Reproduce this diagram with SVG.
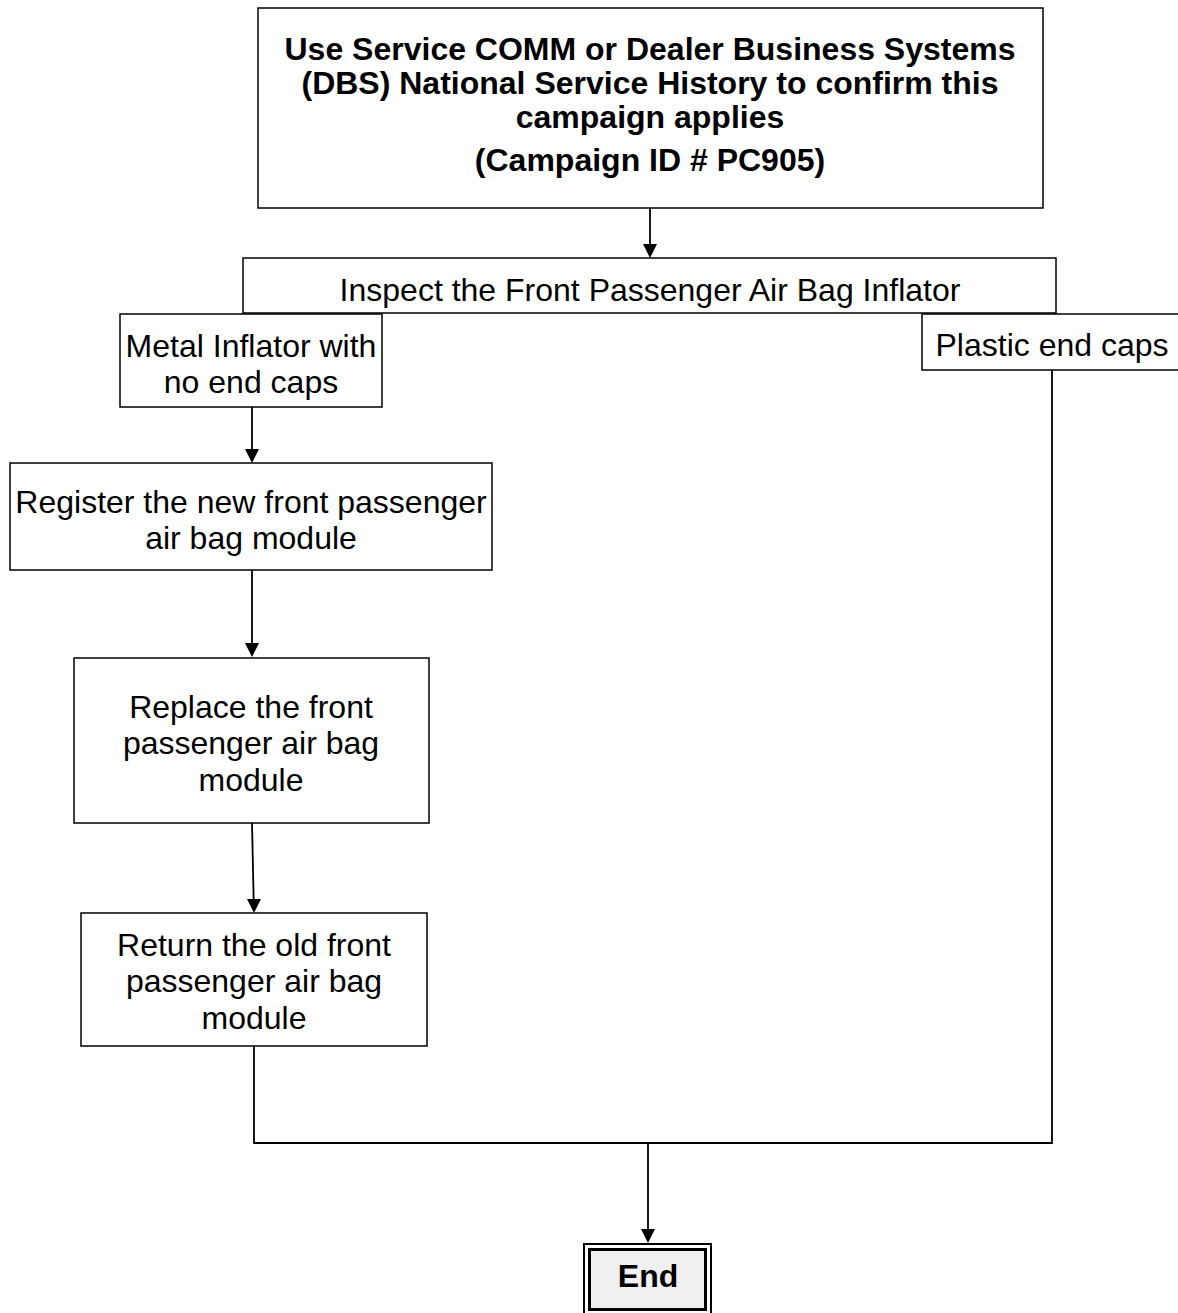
<svg xmlns="http://www.w3.org/2000/svg" width="1178" height="1313" viewBox="0 0 1178 1313">
<style>
.box{fill:#fff;stroke:#000;stroke-width:1.5}
.t{font-family:"Liberation Sans",Arial,sans-serif;font-size:32px;fill:#000;text-anchor:middle}
.b{font-weight:bold}
.c{fill:none;stroke:#000;stroke-width:1.8}
</style>
<defs>
<path id="ah" d="M-7,-14 L7,-14 L0,0 Z" fill="#000"/>
</defs>
<rect width="1178" height="1313" fill="#fff"/>
<g id="connectors">
<line class="c" x1="650" y1="208" x2="650" y2="246"/>
<line class="c" x1="252" y1="407" x2="252" y2="451"/>
<line class="c" x1="252" y1="570" x2="252" y2="645"/>
<line class="c" x1="252" y1="823" x2="253.7" y2="901"/>
<polyline class="c" points="254,1046 254,1143 1052,1143 1052,370"/>
<line class="c" x1="648" y1="1143" x2="648" y2="1231"/>
<use href="#ah" x="650" y="258"/>
<use href="#ah" x="252" y="463"/>
<use href="#ah" x="252" y="657"/>
<use href="#ah" x="254" y="913"/>
<use href="#ah" x="648" y="1243"/>
</g>
<g id="n-campaign">
<rect class="box" x="258" y="8" width="785" height="200"/>
<text class="t b" x="650" y="60">Use Service COMM or Dealer Business Systems</text>
<text class="t b" x="650" y="94">(DBS) National Service History to confirm this</text>
<text class="t b" x="650" y="128">campaign applies</text>
<text class="t b" x="650" y="171">(Campaign ID # PC905)</text>
</g>
<g id="n-inspect">
<rect class="box" x="243" y="258" width="813" height="55"/>
<text class="t" x="650" y="301">Inspect the Front Passenger Air Bag Inflator</text>
</g>
<g id="n-metal">
<rect class="box" x="120" y="314" width="262" height="93"/>
<text class="t" x="251" y="357">Metal Inflator with</text>
<text class="t" x="251" y="393">no end caps</text>
</g>
<g id="n-plastic">
<rect class="box" x="922" y="314" width="270" height="56"/>
<text class="t" x="1052" y="356">Plastic end caps</text>
</g>
<g id="n-register">
<rect class="box" x="10" y="463" width="482" height="107"/>
<text class="t" x="251" y="513">Register the new front passenger</text>
<text class="t" x="251" y="549">air bag module</text>
</g>
<g id="n-replace">
<rect class="box" x="74" y="658" width="355" height="165"/>
<text class="t" x="251" y="718">Replace the front</text>
<text class="t" x="251" y="754">passenger air bag</text>
<text class="t" x="251" y="791">module</text>
</g>
<g id="n-return">
<rect class="box" x="81" y="913" width="346" height="133"/>
<text class="t" x="254" y="956">Return the old front</text>
<text class="t" x="254" y="992">passenger air bag</text>
<text class="t" x="254" y="1029">module</text>
</g>
<g id="n-end">
<rect x="584" y="1244" width="127" height="72" fill="none" stroke="#000" stroke-width="2"/>
<rect x="589.5" y="1249.5" width="116" height="60" fill="#f0f0f0" stroke="#000" stroke-width="3"/>
<text class="t b" x="648" y="1287">End</text>
</g>
</svg>
